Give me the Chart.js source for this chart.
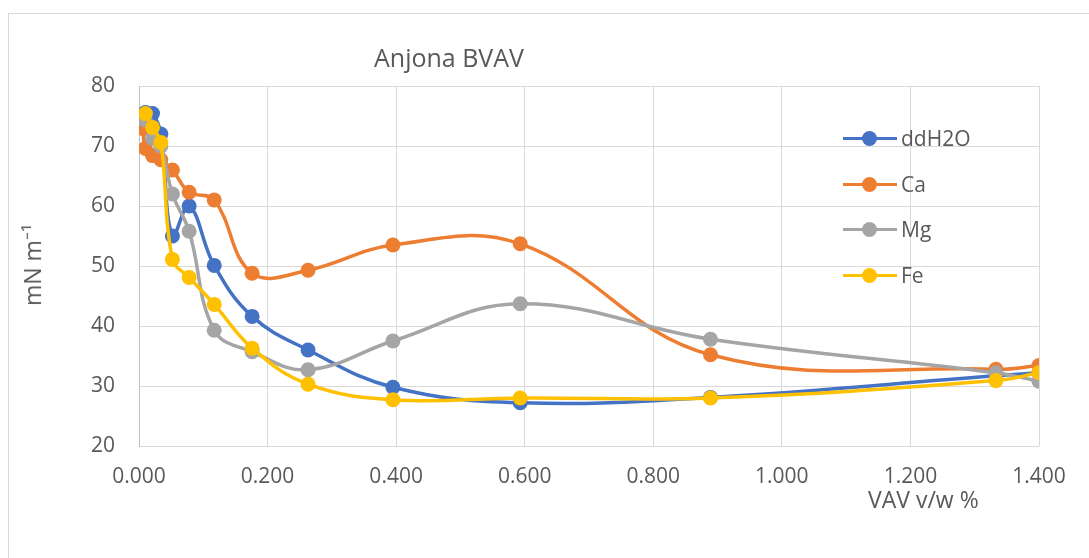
<!DOCTYPE html>
<html>
<head>
<meta charset="utf-8">
<script src="https://cdn.jsdelivr.net/npm/chart.js@4.4.1/dist/chart.umd.min.js"></script>
<style>
  html, body { margin: 0; padding: 0; background: #fff; }
  #wrap { position: relative; width: 1089px; height: 558px; overflow: hidden; font-family: "Open Sans", "Liberation Sans", sans-serif; color: #595959; }
  #frame { position: absolute; left: 8px; top: 13px; width: 1200px; height: 700px; border-top: 1px solid #d9d9d9; border-left: 1px solid #d9d9d9; }
  canvas { position: absolute; left: 0; top: 0; }
  .txt { position: absolute; white-space: nowrap; color: #595959; line-height: 1.3; }
  #title { left: 374px; top: 41px; font-size: 25px; }
  #ytitle { left: 33px; top: 265px; font-size: 23px; transform: translate(-50%, -50%) rotate(-90deg); }
  #xtitle { left: 868px; top: 485px; font-size: 23px; }
  #legend { position: absolute; left: 843px; top: 127px; }
  .li { position: relative; height: 45.7px; }
  .li .ln { position: absolute; left: 0; top: 10px; width: 54px; height: 3px; }
  .li .dot { position: absolute; left: 19px; top: 4px; width: 15px; height: 15px; border-radius: 50%; }
  .li .lab { position: absolute; left: 58px; top: -2px; font-size: 21px; line-height: 1.3; }
</style>
</head>
<body>
<div id="wrap">
  <div id="frame"></div>
  <canvas id="c" width="1089" height="558"></canvas>
  <div class="txt" id="title">Anjona BVAV</div>
  <div class="txt" id="ytitle">mN m⁻¹</div>
  <div class="txt" id="xtitle">VAV v/w %</div>
  <div id="legend"></div>
</div>
<script>
const xValues = [0.006, 0.010, 0.021, 0.034, 0.052, 0.078, 0.117, 0.176, 0.263, 0.395, 0.593, 0.889, 1.333, 1.4];
const ddH2O = [null, 75.6, 75.4, 72.0, 55.0, 60.0, 50.1, 41.6, 36.0, 29.8, 27.2, 28.1, 31.7, 32.2];
const Ca    = [72.9, 69.6, 68.4, 67.7, 66.0, 62.3, 61.0, 48.8, 49.3, 53.5, 53.7, 35.2, 32.8, 33.4];
const Mg    = [null, 74.3, 71.3, 70.0, 62.0, 55.8, 39.3, 35.7, 32.7, 37.5, 43.7, 37.8, 32.2, 30.8];
const Fe    = [null, 75.4, 73.1, 70.6, 51.1, 48.1, 43.6, 36.3, 30.3, 27.7, 28.0, 28.0, 30.9, 32.2];
const seriesNames = ["ddH2O", "Ca", "Mg", "Fe"];
const seriesColors = ["#4472C4", "#ED7D31", "#A5A5A5", "#FFC000"];
const xTicks = [0, 0.2, 0.4, 0.6, 0.8, 1.0, 1.2, 1.4];
const yTicks = [20, 30, 40, 50, 60, 70, 80];

const allSeries = [ddH2O, Ca, Mg, Fe];
const datasets = allSeries.map((vals, i) => ({
  label: seriesNames[i],
  data: xValues.map((x, j) => vals[j] == null ? null : { x: x, y: vals[j] }).filter(p => p),
  borderColor: seriesColors[i],
  backgroundColor: seriesColors[i],
  pointBackgroundColor: seriesColors[i],
  pointBorderColor: seriesColors[i],
  pointRadius: 7.5,
  pointBorderWidth: 0,
  borderWidth: 3.5,
  tension: 0.4,
  showLine: true,
  order: 3 - i
}));

new Chart(document.getElementById('c'), {
  type: 'scatter',
  data: { datasets },
  options: {
    responsive: false,
    animation: false,
    devicePixelRatio: 1,
    layout: { padding: { left: 0, right: 50, top: 86, bottom: 0 } },
    plugins: { legend: { display: false }, title: { display: false }, tooltip: { enabled: false } },
    scales: {
      x: {
        type: 'linear', min: 0, max: 1.4,
        afterBuildTicks: s => { s.ticks = xTicks.map(v => ({ value: v })); },
        afterFit: s => { s.height = 112; },
        grid: { color: '#d9d9d9', lineWidth: 1, drawTicks: false },
        border: { display: false },
        ticks: { padding: 18, color: '#595959', font: { family: 'Open Sans', size: 21 }, callback: v => Number(v).toFixed(3), maxRotation: 0 }
      },
      y: {
        min: 20, max: 80,
        afterBuildTicks: s => { s.ticks = yTicks.map(v => ({ value: v })); },
        afterFit: s => { s.width = 139; },
        grid: { color: '#d9d9d9', lineWidth: 1, drawTicks: false },
        border: { display: true, color: '#bfbfbf', width: 1 },
        ticks: { padding: 24, color: '#595959', font: { family: 'Open Sans', size: 21 } }
      }
    }
  }
});

const lg = document.getElementById('legend');
seriesNames.forEach((n, i) => {
  const d = document.createElement('div');
  d.className = 'li';
  d.innerHTML = '<div class="ln" style="background:' + seriesColors[i] + '"></div><div class="dot" style="background:' + seriesColors[i] + '"></div><div class="lab">' + n + '</div>';
  lg.appendChild(d);
});
</script>
</body>
</html>
